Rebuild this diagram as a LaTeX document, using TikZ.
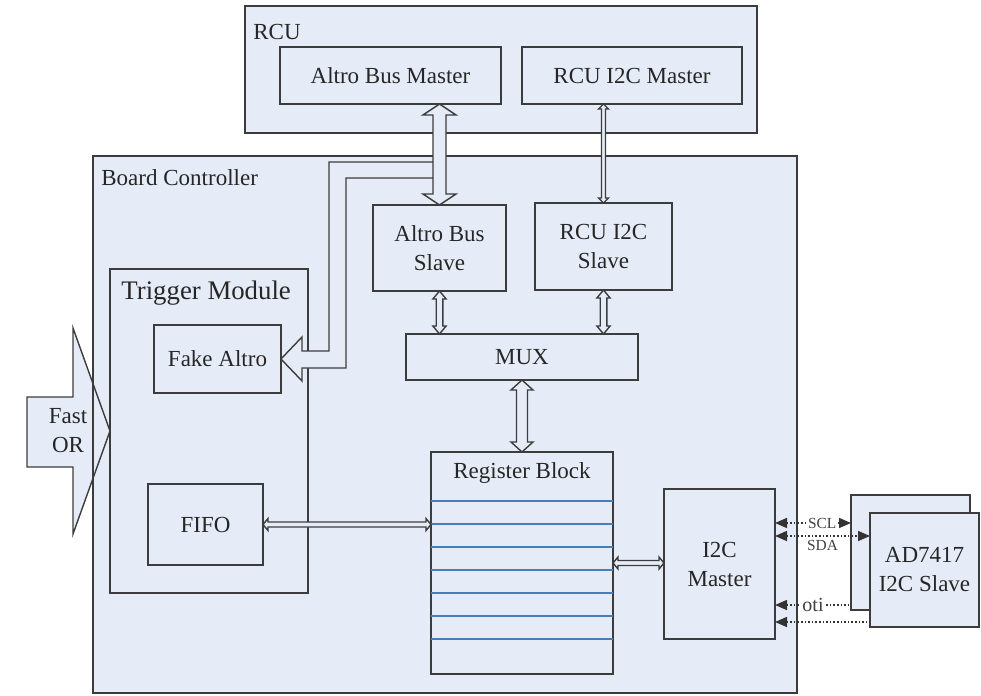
\documentclass[tikz,border=0pt]{standalone}
\usepackage{fontspec}
\setmainfont{Liberation Serif}
\newfontfamily\timesfont{Liberation Serif}
\usetikzlibrary{arrows.meta,positioning,calc}
\definecolor{bgblue}{RGB}{230,236,247}
\definecolor{edgegray}{RGB}{60,60,60}
\definecolor{regblue}{RGB}{74,126,187}
\tikzset{
  block/.style    = {draw=edgegray, line width=0.75pt, fill=bgblue, inner sep=0pt,
                     outer sep=0pt, align=center, text=black!85,
                     font=\timesfont\fontsize{11.5}{14.5}\selectfont},
  boxtitle/.style = {anchor=west, inner sep=0pt, text=black!85,
                     font=\timesfont\fontsize{11.5}{14}\selectfont},
  bus/.style      = {draw=edgegray, line width=0.7pt, fill=bgblue, line join=miter},
  regline/.style  = {draw=regblue, line width=0.8pt},
  sig/.style      = {densely dotted, line width=0.8pt, draw=black!80,
                     >={Triangle[length=6pt,width=5pt]}},
  siglbl/.style   = {inner sep=0.8pt, fill=white, text=black!75,
                     font=\timesfont\fontsize{7.7}{9}\selectfont},
}
% hollow two-headed bus arrows: from, to, shaft half, head half, head length
\newcommand\vbus[5]{%
  \draw[bus] let \p1=(#1), \p2=(#2) in
    (\x1,\y1) -- (\x1+#4,\y1-#5) -- (\x1+#3,\y1-#5) -- (\x1+#3,\y2+#5)
    -- (\x1+#4,\y2+#5) -- (\x1,\y2) -- (\x1-#4,\y2+#5) -- (\x1-#3,\y2+#5)
    -- (\x1-#3,\y1-#5) -- (\x1-#4,\y1-#5) -- cycle;}
\newcommand\hbus[5]{%
  \draw[bus] let \p1=(#1), \p2=(#2) in
    (\x1,\y1) -- (\x1+#5,\y1+#4) -- (\x1+#5,\y1+#3) -- (\x2-#5,\y1+#3)
    -- (\x2-#5,\y1+#4) -- (\x2,\y1) -- (\x2-#5,\y1-#4) -- (\x2-#5,\y1-#3)
    -- (\x1+#5,\y1-#3) -- (\x1+#5,\y1-#4) -- cycle;}

\begin{document}
\begin{tikzpicture}[x=0.5pt,y=-0.5pt]
\useasboundingbox (0,0) rectangle (981,696);
% RCU
\node[block,minimum width=256pt,minimum height=63.5pt] (rcu) at (501,69.5) {};
\node[boxtitle] (rcutitle) at ($(rcu.north west)+(8,26)$) {RCU};
\node[block,minimum width=110.5pt,minimum height=28.5pt] (amaster) at (390.5,75.5) {Altro Bus Master};
\node[block,minimum width=110pt,minimum height=28.5pt] (imaster) at (632,75.5) {RCU I2C Master};
% board controller
\node[block,minimum width=352pt,minimum height=268.5pt] (bc) at (445,424.5) {};
\node[boxtitle] (bctitle) at ($(bc.north west)+(8,22)$) {Board Controller};
\node[block,minimum width=99pt,minimum height=162pt] (trig) at (209,431) {};
\node[boxtitle,font=\timesfont\fontsize{13.4}{16}\selectfont] (trigtitle) at ($(trig.north west)+(11,24)$) {Trigger Module};
\node[block,minimum width=63.5pt,minimum height=34pt] (fake) at (217.5,359) {Fake Altro};
\node[block,minimum width=57.5pt,minimum height=40.5pt] (fifo) at (205.5,524.5) {FIFO};
\node[block,minimum width=66.5pt,minimum height=43pt] (aslave) at (439.5,248) {Altro Bus\\Slave};
\node[block,minimum width=68.5pt,minimum height=43.5pt] (islave) at (603.5,246.5) {RCU I2C\\Slave};
\node[block,minimum width=116pt,minimum height=23pt] (mux) at (522,357) {MUX};
\node[block,minimum width=91pt,minimum height=111pt] (reg) at (522,563) {};
\node[boxtitle,anchor=center] (regtitle) at ($(reg.north)+(0,21)$) {Register Block};
\foreach \k in {0,...,6}
  \draw[regline] ($(reg.north west)+(0,49+23*\k)$) -- ($(reg.north east)+(0,49+23*\k)$);
\node[block,minimum width=55.5pt,minimum height=75pt] (i2cm) at (719.5,564) {I2C\\Master};
% AD7417 slaves
\node[block,minimum width=59.5pt,minimum height=57.5pt] (adback) at (910.5,552.5) {};
\node[block,minimum width=54.5pt,minimum height=57pt] (adfront) at (924.5,570) {AD7417\\I2C Slave};

% fast OR input
\filldraw[bus] (trig.west) -- ++(-37,-103) -- ++(0,69) -- ++(-46,0) -- ++(0,70)
  -- ++(46,0) -- ++(0,67) -- cycle;
\node[block,draw=none,fill=none] (fastor) at (68,431) {Fast\\OR};
\draw[draw=edgegray,line width=0.75pt] (bc.north west) -- (bc.south west);

% altro bus branch to the fake altro
\filldraw[bus] ($(aslave.north)+(-6.5,-43)$) -| ($(fake.east)+(48,-8)$) -- ++(-27,0)
  -- ++(0,-14) -- (fake.east) -- ++(21,22) -- ++(0,-13) -- ++(44,0)
  |- ($(aslave.north)+(-6.5,-27)$);
\vbus{amaster.south -| aslave.north}{aslave.north}{3.25pt}{8.25pt}{5.5pt}
\vbus{imaster.south -| islave.north}{islave.north}{1pt}{2.5pt}{2.5pt}
\vbus{aslave.south}{aslave.south |- mux.north}{1.65pt}{3.3pt}{4pt}
\vbus{islave.south}{islave.south |- mux.north}{1.65pt}{3.3pt}{4pt}
\vbus{mux.south}{reg.north}{2.75pt}{5.5pt}{5pt}
\hbus{fifo.east}{fifo.east -| reg.west}{1.25pt}{3pt}{2.5pt}
\hbus{reg.east}{reg.east -| i2cm.west}{1.25pt}{3pt}{2.5pt}

% i2c lines
\coordinate (scl0) at ($(i2cm.east)+(0,-41)$);
\coordinate (sda0) at ($(i2cm.east)+(0,-28)$);
\coordinate (oti0) at ($(i2cm.east)+(0,41)$);
\coordinate (oti1) at ($(i2cm.east)+(0,58)$);
\draw[sig,<->] (scl0) -- node[siglbl,pos=0.62] (scl) {SCL} (scl0 -| adback.west);
\draw[sig,<->] (sda0) -- node[siglbl,fill=none,below=1pt,pos=0.5] (sda) {SDA} (sda0 -| adfront.west);
\draw[sig,<-] (oti0) -- node[siglbl,font=\timesfont\fontsize{10}{12}\selectfont,pos=0.5] (oti) {oti} (oti0 -| adback.west);
\draw[sig,<-] (oti1) -- (oti1 -| adfront.west);
\end{tikzpicture}
\end{document}
